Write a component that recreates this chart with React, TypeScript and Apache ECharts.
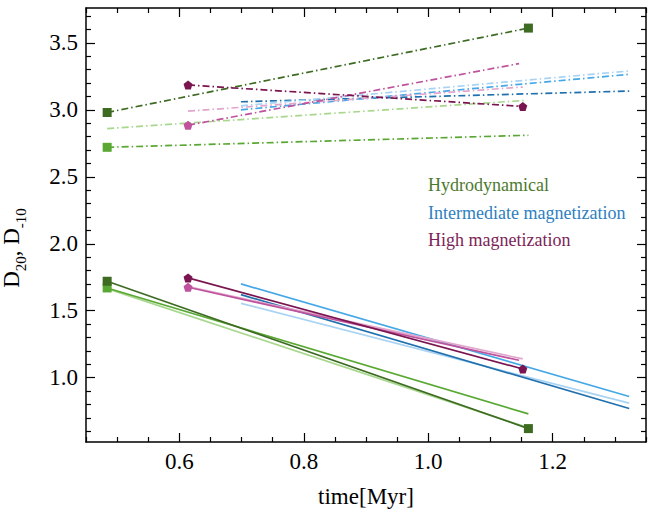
import React, { useEffect, useRef } from "react";
import * as echarts from "echarts";

// ---- data ----
const tHydro = [0.484, 1.161];
const tHydroLight = [0.484, 1.155];
const tHigh = [0.614, 1.152];
const tHighMid = [0.614, 1.146];
const tInter = [0.699, 1.323];

// D_-10 (dash-dot)
const hydroDarkD10 = [2.98, 3.61];
const hydroMidD10 = [2.72, 2.81];
const hydroLightD10 = [2.86, 3.07];
const highDarkD10 = [3.185, 3.025];
const highMidD10 = [2.885, 3.345];
const highLightD10 = [2.99, 3.17];
const interDarkD10 = [3.06, 3.14];
const interMidD10 = [3.0, 3.265];
const interLightD10 = [3.03, 3.29];

// D_20 (solid)
const hydroDarkD20 = [1.72, 0.62];
const hydroMidD20 = [1.67, 0.73];
const hydroLightD20 = [1.665, 0.635];
const highDarkD20 = [1.745, 1.065];
const highMidD20 = [1.675, 1.13];
const highLightD20 = [1.68, 1.14];
const interDarkD20 = [1.62, 0.77];
const interMidD20 = [1.7, 0.86];
const interLightD20 = [1.555, 0.81];

const xMajor = [0.6, 0.8, 1.0, 1.2];
const xMinor = [0.45, 0.5, 0.55, 0.65, 0.7, 0.75, 0.85, 0.9, 0.95, 1.05, 1.1, 1.15, 1.25, 1.3, 1.35];
const yMajor = [1.0, 1.5, 2.0, 2.5, 3.0, 3.5];
const yMinor = [0.6, 0.7, 0.8, 0.9, 1.1, 1.2, 1.3, 1.4, 1.6, 1.7, 1.8, 1.9, 2.1, 2.2, 2.3, 2.4, 2.6, 2.7, 2.8, 2.9, 3.1, 3.2, 3.3, 3.4, 3.6, 3.7];

const legendLabels = ["Hydrodynamical", "Intermediate magnetization", "High magnetization"];

const C = {
  hydroDark: "#3d6b22",
  hydroMid: "#5aa834",
  hydroLight: "#a8d78e",
  interDark: "#2170ad",
  interMid: "#45a8e6",
  interLight: "#a9d3f3",
  highDark: "#7a1550",
  highMid: "#bf529c",
  highLight: "#e2a6cc",
};

const FONT = "Liberation Serif";
const PENTAGON = "path://M0,-1 L0.951,-0.309 L0.588,0.809 L-0.588,0.809 L-0.951,-0.309 Z";
const DASHDOT = [7, 3, 1.5, 3];

type Mk = { symbol: string; size: number } | null;

function mkSeries(
  times: number[],
  vals: number[],
  color: string,
  dashed: boolean,
  markers: Mk[]
) {
  return {
    type: "line",
    xAxisIndex: 0,
    yAxisIndex: 0,
    showSymbol: true,
    z: 3,
    lineStyle: { color, width: 1.7, type: dashed ? DASHDOT : "solid" },
    itemStyle: { color },
    data: times.map((t, i) => {
      const m = markers[i];
      return m
        ? { value: [t, vals[i]], symbol: m.symbol, symbolSize: m.size }
        : { value: [t, vals[i]], symbol: "none" };
    }),
  };
}

const SQ: Mk = { symbol: "rect", size: 9 };
const PT: Mk = { symbol: PENTAGON, size: 9 };

function axisPair(kind: "x" | "y", pos: string, major: number[], minor: number[], showLabel: boolean, extra: any) {
  const base = kind === "x" ? { min: 0.45, max: 1.35 } : { min: 0.52, max: 3.76 };
  return [
    {
      type: "value",
      ...base,
      position: pos,
      axisLine: { show: true, onZero: false, lineStyle: { color: "#000", width: 1.5 } },
      axisTick: { show: true, inside: true, length: 9, customValues: major, lineStyle: { color: "#000", width: 1.2 } },
      axisLabel: showLabel
        ? {
            show: true,
            customValues: major,
            formatter: (v: number) => v.toFixed(1),
            fontFamily: FONT,
            fontSize: 23,
            color: "#000",
            margin: 8,
          }
        : { show: false },
      splitLine: { show: false },
      ...extra,
    },
    {
      type: "value",
      ...base,
      position: pos,
      axisLine: { show: false, onZero: false },
      axisTick: { show: true, inside: true, length: 5, customValues: minor, lineStyle: { color: "#000", width: 1.2 } },
      axisLabel: { show: false },
      splitLine: { show: false },
    },
  ];
}

export default function App() {
  const ref = useRef<HTMLDivElement>(null);
  useEffect(() => {
    document.body.style.margin = "0";
    const chart = echarts.init(ref.current!, null, { renderer: "svg" });
    const series = [
      mkSeries(tHydro, hydroDarkD10, C.hydroDark, true, [SQ, SQ]),
      mkSeries(tHydro, hydroMidD10, C.hydroMid, true, [SQ, null]),
      mkSeries(tHydroLight, hydroLightD10, C.hydroLight, true, [null, null]),
      mkSeries(tInter, interDarkD10, C.interDark, true, [null, null]),
      mkSeries(tInter, interMidD10, C.interMid, true, [null, null]),
      mkSeries(tInter, interLightD10, C.interLight, true, [null, null]),
      mkSeries(tHigh, highLightD10, C.highLight, true, [null, null]),
      mkSeries(tHighMid, highMidD10, C.highMid, true, [PT, null]),
      mkSeries(tHigh, highDarkD10, C.highDark, true, [PT, PT]),
      mkSeries(tHydroLight, hydroLightD20, C.hydroLight, false, [null, null]),
      mkSeries(tHydro, hydroMidD20, C.hydroMid, false, [SQ, null]),
      mkSeries(tHydro, hydroDarkD20, C.hydroDark, false, [SQ, SQ]),
      mkSeries(tInter, interLightD20, C.interLight, false, [null, null]),
      mkSeries(tInter, interMidD20, C.interMid, false, [null, null]),
      mkSeries(tInter, interDarkD20, C.interDark, false, [null, null]),
      mkSeries(tHigh, highLightD20, C.highLight, false, [null, null]),
      mkSeries(tHighMid, highMidD20, C.highMid, false, [PT, null]),
      mkSeries(tHigh, highDarkD20, C.highDark, false, [PT, PT]),
    ];
    const xAxes = [
      ...axisPair("x", "bottom", xMajor, xMinor, true, {
        name: "time[Myr]",
        nameLocation: "middle",
        nameGap: 43,
        nameTextStyle: { fontFamily: FONT, fontSize: 23, color: "#000" },
      }),
      ...axisPair("x", "top", xMajor, xMinor, false, {}),
    ];
    const yAxes = [
      ...axisPair("y", "left", yMajor, yMinor, true, {}),
      ...axisPair("y", "right", yMajor, yMinor, false, {}),
    ];
    const legendColors = ["#4b7a2e", "#2e80c0", "#7d1f58"];
    chart.setOption({
      animation: false,
      backgroundColor: "#fff",
      grid: { left: 86, right: 18, top: 8, bottom: 64, containLabel: false },
      xAxis: xAxes,
      yAxis: yAxes,
      series,
      graphic: [
        ...legendLabels.map((txt, i) => ({
          type: "text",
          left: 428,
          top: 176 + i * 27.5,
          style: { text: txt, fill: legendColors[i], font: `18px ${FONT}` },
        })),
        {
          type: "text",
          x: 14,
          y: 248,
          rotation: Math.PI / 2,
          style: {
            text: "{a|D}{s|20}{a|, D}{s|-10}",
            align: "center",
            verticalAlign: "middle",
            rich: {
              a: { fontFamily: FONT, fontSize: 23, color: "#000", lineHeight: 28, verticalAlign: "top" },
              s: { fontFamily: FONT, fontSize: 15, color: "#000", lineHeight: 28, verticalAlign: "bottom", padding: [11, 0, 0, 0] },
            },
          },
        },
      ],
    });
    return () => chart.dispose();
  }, []);
  return <div ref={ref} style={{ width: 664, height: 513 }} />;
}
